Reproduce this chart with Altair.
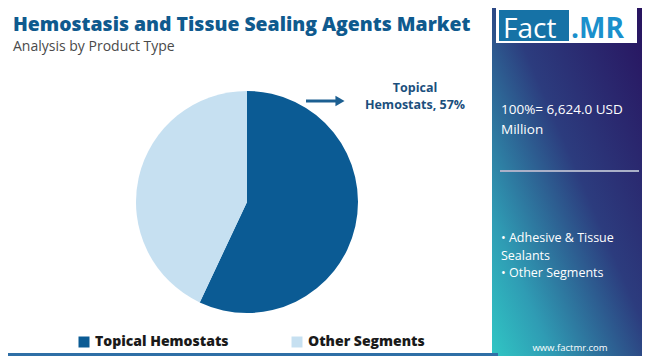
import altair as alt
import pandas as pd

# ---- data ----
segments = ["Topical Hemostats", "Other Segments"]
shares = [57, 43]
seg_colors = ["#0b5b94", "#c6e0f1"]

title_text = "Hemostasis and Tissue Sealing Agents Market"
subtitle_text = "Analysis by Product Type"
callout_lines = ["Topical", "Hemostats, 57%"]
total_lines = ["100%= 6,624.0 USD", "Million"]
bullet_lines = ["\u2022 Adhesive & Tissue", "Sealants", "\u2022 Other Segments"]
site_text = "www.factmr.com"

FONT = "Open Sans"
W, H = 634, 348

pie_df = pd.DataFrame({"segment": segments, "share": shares, "ord": list(range(len(segments)))})
one = pd.DataFrame({"a": [0]})

def base():
    return alt.Chart(one)

def txt(text, x, y, size, color, weight="normal", align="left", baseline="alphabetic", font=FONT):
    return base().mark_text(text=text, fontSize=size, color=color, fontWeight=weight,
                            align=align, baseline=baseline, font=font).encode(
        x=alt.value(x), y=alt.value(y))

def rect(x, x2, y, y2, fill):
    return base().mark_rect(fill=fill).encode(
        x=alt.value(x), x2=alt.value(x2), y=alt.value(y), y2=alt.value(y2))

panel = base().mark_rect(
    fill=alt.Gradient(
        gradient="linear",
        stops=[alt.GradientStop(color="#28135f", offset=0),
               alt.GradientStop(color="#2c3c7e", offset=0.45),
               alt.GradientStop(color="#2f9cb4", offset=0.8),
               alt.GradientStop(color="#30c6c4", offset=1)],
        x1=1, y1=0, x2=0, y2=1)
).encode(x=alt.value(484), x2=alt.value(W), y=alt.value(0), y2=alt.value(H))

pie = alt.Chart(pie_df).mark_arc(outerRadius=111).encode(
    theta=alt.Theta("share:Q", stack=True),
    order=alt.Order("ord:Q"),
    color=alt.Color("segment:N",
                    scale=alt.Scale(domain=segments, range=seg_colors),
                    sort=segments,
                    legend=alt.Legend(orient="none", legendX=69, legendY=327,
                                      direction="horizontal", title=None,
                                      symbolType="square", symbolSize=121,
                                      symbolStrokeWidth=0, symbolOpacity=1,
                                      labelFont=FONT, labelFontWeight=800,
                                      labelFontSize=14, labelColor="#1a1a1a",
                                      labelOffset=4, columnPadding=61,
                                      labelLimit=300)),
    x=alt.value(239), y=alt.value(194),
)

arrow_line = base().mark_rule(color="#1c5f91", strokeWidth=3).encode(
    x=alt.value(298), x2=alt.value(330), y=alt.value(93))
arrow_head = base().mark_point(shape="triangle-right", filled=True, color="#1c5f91",
                               size=110, opacity=1).encode(
    x=alt.value(332), y=alt.value(93))

sep = base().mark_rule(color="#aab0c8", strokeWidth=2).encode(
    x=alt.value(492), x2=alt.value(631), y=alt.value(163))
bottom_line = base().mark_rule(color="#2f6fa6", strokeWidth=3).encode(
    x=alt.value(0), x2=alt.value(490), y=alt.value(346.5))

layers = [
    panel,
    pie,
    arrow_line, arrow_head,
    txt(title_text, 5, 23, 19.4, "#0f5a8e", weight=800),
    txt(subtitle_text, 5, 43, 14, "#4a4a4a"),
    txt(callout_lines[0], 407, 84, 12.5, "#1b4f7d", weight="bold", align="center"),
    txt(callout_lines[1], 407, 101, 12.5, "#1b4f7d", weight="bold", align="center"),
    rect(488, 629, 0, 35, "#ffffff"),
    rect(491, 561, 2, 33, "#1672a6"),
    txt("Fact", 495, 29.5, 28, "#ffffff"),
    txt(".MR", 563, 29.5, 28, "#1a90cc", weight="bold"),
    txt(total_lines[0], 493, 106, 13.5, "#ffffff"),
    txt(total_lines[1], 493, 126, 13.5, "#ffffff"),
    sep,
    txt(bullet_lines[0], 493, 234, 12.5, "#ffffff"),
    txt(bullet_lines[1], 493, 252, 12.5, "#ffffff"),
    txt(bullet_lines[2], 493, 269, 12.5, "#ffffff"),
    txt(site_text, 562, 343, 9.5, "#ffffff", align="center"),
    bottom_line,
]

chart = alt.layer(*layers).properties(
    width=W, height=H, padding=0, autosize=alt.AutoSizeParams(type="none"),
    background="#ffffff"
).configure_view(stroke=None)

chart.save("out.html", embed_options={"renderer": "svg", "actions": False})
